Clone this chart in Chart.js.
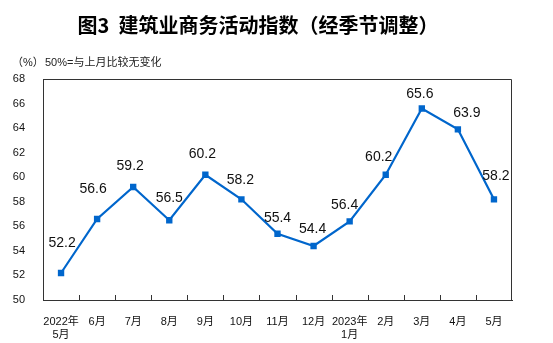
<!DOCTYPE html>
<html>
<head>
<meta charset="utf-8">
<script src="https://cdn.jsdelivr.net/npm/chart.js@4/dist/chart.umd.min.js"></script>
<style>
  html, body { margin: 0; padding: 0; background: #fff; }
  #wrap { width: 553px; height: 343px; position: relative; }
</style>
</head>
<body>
<div id="wrap"><canvas id="c" width="553" height="343"></canvas></div>
<script>
// Months shown along the bottom (multi-line where the year changes)
const months = [
  ['2022年', '5月'], '6月', '7月', '8月', '9月', '10月', '11月', '12月',
  ['2023年', '1月'], '2月', '3月', '4月', '5月'
];
// Construction business activity index, seasonally adjusted (%)
const indexValues = [52.2, 56.6, 59.2, 56.5, 60.2, 58.2, 55.4, 54.4, 56.4, 60.2, 65.6, 63.9, 58.2];
// Value axis ticks
const yTicks = [50, 52, 54, 56, 58, 60, 62, 64, 66, 68];

const titleText = '图3  建筑业商务活动指数（经季节调整）';
const unitText = '（%）';
const noteText = '50%=与上月比较无变化';

// Label nudges (dx, dy in px from each point) so values don't sit on the line
const labelNudge = [
  [1, -30], [-4, -30], [-3, -21], [0, -22], [-3, -21], [-1, -19], [0, -16],
  [-1, -17], [-5, -16], [-7, -18], [-2, -14], [9, -16], [2, -23]
];

const decor = {
  id: 'decor',
  afterDraw(chart) {
    const ctx = chart.ctx;
    const a = chart.chartArea;
    const xs = chart.scales.x;
    ctx.save();
    // Title
    ctx.fillStyle = '#000';
    ctx.font = 'bold 20px "Noto Sans CJK SC", sans-serif';
    ctx.textAlign = 'center';
    ctx.textBaseline = 'middle';
    ctx.fillText(titleText, 258, 25);
    // Unit and reference note
    ctx.font = '11px "Liberation Sans", "Noto Sans CJK SC", sans-serif';
    ctx.textAlign = 'left';
    ctx.fillStyle = '#222';
    ctx.fillText(unitText, 12, 63);
    ctx.fillText(noteText, 45, 63);
    // Frame top and right
    ctx.strokeStyle = '#333';
    ctx.lineWidth = 1;
    ctx.beginPath();
    ctx.moveTo(a.left, a.top + 0.5);
    ctx.lineTo(a.right - 0.5, a.top + 0.5);
    ctx.lineTo(a.right - 0.5, a.bottom);
    ctx.stroke();
    // Inward tick marks between categories
    ctx.beginPath();
    for (let i = 1; i < months.length; i++) {
      const x = Math.round((xs.getPixelForTick(i - 1) + xs.getPixelForTick(i)) / 2) + 0.5;
      ctx.moveTo(x, a.bottom);
      ctx.lineTo(x, a.bottom - 5);
    }
    ctx.stroke();
    // Value labels
    const meta = chart.getDatasetMeta(0);
    ctx.fillStyle = '#111';
    ctx.font = '14px "Liberation Sans", Arial, sans-serif';
    ctx.textAlign = 'center';
    ctx.textBaseline = 'middle';
    meta.data.forEach((pt, i) => {
      const n = labelNudge[i];
      ctx.fillText(indexValues[i].toFixed(1), pt.x + n[0], pt.y + n[1]);
    });
    ctx.restore();
  }
};

new Chart(document.getElementById('c'), {
  type: 'line',
  data: {
    labels: months,
    datasets: [{
      data: indexValues,
      borderColor: '#0066CC',
      backgroundColor: '#0066CC',
      borderWidth: 2.2,
      pointStyle: 'rect',
      pointRadius: 4.5,
      pointBorderWidth: 0,
      tension: 0
    }]
  },
  options: {
    responsive: false,
    animation: false,
    devicePixelRatio: 1,
    layout: { padding: { top: 79, right: 41, bottom: 0, left: 0 } },
    plugins: { legend: { display: false }, tooltip: { enabled: false } },
    scales: {
      x: {
        offset: true,
        grid: { display: false },
        border: { display: true, color: '#333', width: 1 },
        ticks: {
          color: '#111',
          font: { size: 11, family: '"Liberation Sans", "Noto Sans CJK SC", sans-serif' },
          maxRotation: 0,
          autoSkip: false,
          padding: 7
        },
        afterFit(s) { s.height = 43; }
      },
      y: {
        min: 50,
        max: 68,
        afterBuildTicks(s) { s.ticks = yTicks.map(v => ({ value: v })); },
        grid: { display: false },
        border: { display: true, color: '#333', width: 1 },
        ticks: {
          color: '#111',
          font: { size: 11, family: '"Liberation Sans", Arial, sans-serif' },
          padding: 10
        },
        afterFit(s) { s.width = 43; }
      }
    }
  },
  plugins: [decor]
});
</script>
</body>
</html>
